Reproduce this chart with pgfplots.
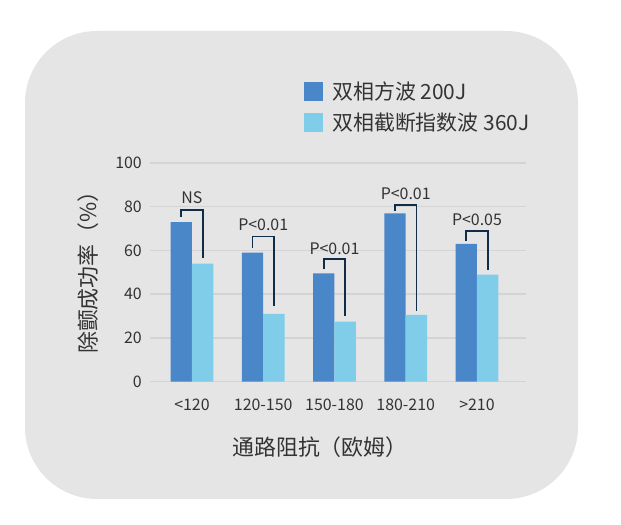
\documentclass[border=0pt]{standalone}
\usepackage{fontspec}
\setmainfont{Noto Sans CJK SC}
\usepackage{pgfplots}
\pgfplotsset{compat=1.18}

\definecolor{bgbox}{HTML}{E5E5E5}
\definecolor{darkbar}{HTML}{4A87C9}
\definecolor{lightbar}{HTML}{7FCDE9}
\definecolor{brk}{HTML}{0F2D48}
\definecolor{txt}{HTML}{333333}
\definecolor{gridc}{HTML}{D4D4D4}

\newcommand{\tickfont}{\fontsize{16}{18}\selectfont}

\begin{document}
\begin{tikzpicture}
% page and rounded panel
\fill[white] (0bp,0bp) rectangle (621bp,525bp);
\fill[bgbox, rounded corners=72bp] (25bp,26bp) rectangle (578bp,494bp);

\begin{axis}[
  at={(150bp,143.3bp)}, anchor=south west,
  scale only axis, width=376bp, height=218.7bp,
  xmin=-0.589, xmax=4.688, ymin=0, ymax=100,
  clip=false,
  axis line style={draw=none},
  major tick length=0pt,
  ymajorgrids, grid style={gridc, line width=1.5bp},
  xtick={0,1,2,3,4},
  xticklabels={{<120},{120-150},{150-180},{180-210},{>210}},
  ytick={0,20,40,60,80,100},
  tick label style={font=\tickfont, text=txt},
  /pgf/number format/assume math mode=true,
  yticklabel style={anchor=east, inner sep=0pt, xshift=-8bp},
  xticklabel style={anchor=base, yshift=-29bp},
  xlabel={通路阻抗（欧姆）},
  ylabel={除颤成功率（\%）},
  label style={font=\fontsize{22}{24}\selectfont, text=txt},
  xlabel style={at={(axis description cs:0.452,-0.2986)}, anchor=center},
  ylabel style={at={(axis description cs:-0.165,0.524)}, anchor=center},
  legend style={at={(axis description cs:0.4096,1.371)}, anchor=north west,
    draw=none, fill=none, inner sep=0pt, row sep=11.8bp, column sep=9.5bp,
    font=\fontsize{21}{23}\selectfont, text=txt,
    nodes={inner sep=0pt, text depth=0.15em}},
  legend cell align=left,
  legend image code/.code={\fill[#1] (0bp,-9.2bp) rectangle (18.6bp,9.2bp);},
]
% bars
\addplot[ybar, bar width=0.3, bar shift=-0.15, fill=darkbar, draw=none]
  coordinates {(0,73) (1,59) (2,49.5) (3,77) (4,63)};
\addplot[ybar, bar width=0.3, bar shift=0.15, fill=lightbar, draw=none]
  coordinates {(0,54) (1,31) (2,27.5) (3,30.5) (4,49)};
\legend{双相方波 200J, 双相截断指数波 360J}

% significance brackets
\addplot[forget plot, sharp plot, no marks, brk, line width=1.8bp]
  coordinates {(-0.15,75.1) (-0.15,78.6) (0.15,78.6) (0.15,56.7)};
\addplot[forget plot, sharp plot, no marks, brk, line width=1.8bp]
  coordinates {(0.85,61.3) (0.85,66.4) (1.15,66.4) (1.15,34.5)};
\addplot[forget plot, sharp plot, no marks, brk, line width=1.8bp]
  coordinates {(1.85,51.4) (1.85,56.0) (2.15,56.0) (2.15,29.9)};
\addplot[forget plot, sharp plot, no marks, brk, line width=1.8bp]
  coordinates {(2.85,77.9) (2.85,80.8) (3.15,80.8) (3.15,32.2)};
\addplot[forget plot, sharp plot, no marks, brk, line width=1.8bp]
  coordinates {(3.85,64.4) (3.85,69.0) (4.15,69.0) (4.15,50.9)};

\node[font=\tickfont, text=txt] at (axis cs:0,84.0) {NS};
\node[font=\tickfont, text=txt] at (axis cs:1,71.6) {P<0.01};
\node[font=\tickfont, text=txt] at (axis cs:2,61.0) {P<0.01};
\node[font=\tickfont, text=txt] at (axis cs:3,85.8) {P<0.01};
\node[font=\tickfont, text=txt] at (axis cs:4,73.9) {P<0.05};
\end{axis}
\end{tikzpicture}
\end{document}
